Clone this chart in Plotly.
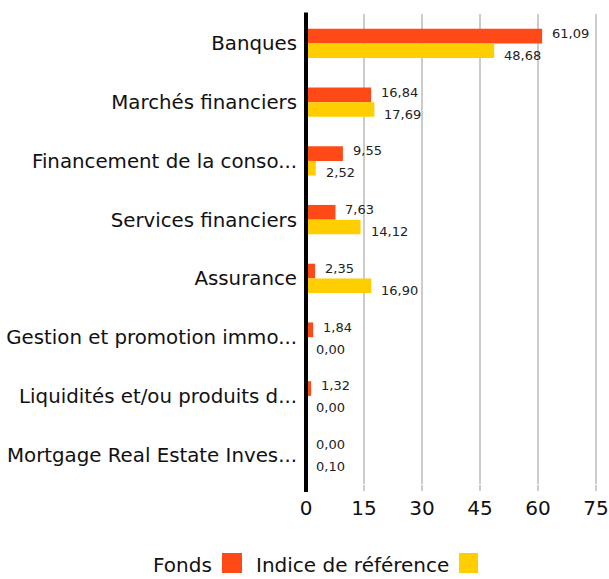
import plotly.graph_objects as go

categories = ["Banques", "Marchés financiers", "Financement de la conso...",
              "Services financiers", "Assurance", "Gestion et promotion immo...",
              "Liquidités et/ou produits d...", "Mortgage Real Estate Inves..."]
fonds = [61.09, 16.84, 9.55, 7.63, 2.35, 1.84, 1.32, 0.00]
indice = [48.68, 17.69, 2.52, 14.12, 16.90, 0.00, 0.00, 0.10]
series_names = ["Fonds", "Indice de référence"]
colors = ["#FF4A17", "#FFCE00"]
x_ticks = [0, 15, 30, 45, 60, 75]

FONT = "DejaVu Sans"

def fmt(v):
    return f"{v:.2f}".replace(".", ",")

fig = go.Figure()
for name, vals, col in zip(series_names, [fonds, indice], colors):
    fig.add_trace(go.Bar(
        y=categories, x=vals, orientation="h", name=name,
        marker=dict(color=col, line=dict(width=0)),
        showlegend=False, hoverinfo="skip",
    ))

annotations = []
for vals, shift in [(fonds, -10), (indice, 12)]:
    for c, v in zip(categories, vals):
        annotations.append(dict(
            x=v, y=c, xref="x", yref="y", text=fmt(v), showarrow=False,
            xanchor="left", yanchor="middle", xshift=8, yshift=-shift,
            font=dict(family=FONT, size=13, color="#222"),
        ))

W, H = 609, 579
ml, mr, mt, mb = 306, 10, 14, 95
pw, ph = W - ml - mr, H - mt - mb

def px_x(p):
    return (p - ml) / pw

def px_y(p):
    return (H - mb - p) / ph

# legend (text followed by colored square)
for label, right in zip(series_names, [214, 451]):
    annotations.append(dict(x=px_x(right), y=px_y(565), xref="paper", yref="paper",
                            text=label, showarrow=False, xanchor="right", yanchor="middle",
                            font=dict(family=FONT, size=20, color="#111")))

shapes = []
for (x0, x1), col in zip([(222, 242), (459, 478)], colors):
    shapes.append(dict(type="rect", xref="paper", yref="paper",
                       x0=px_x(x0), x1=px_x(x1), y0=px_y(573), y1=px_y(553),
                       fillcolor=col, line=dict(width=0)))
# zero axis line (drawn over the bars' start)
shapes.append(dict(type="line", xref="paper", yref="paper", x0=0, x1=0,
                   y0=px_y(492), y1=px_y(12.5), line=dict(color="black", width=4),
                   layer="above"))

fig.update_layout(
    width=W, height=H,
    margin=dict(l=ml, r=mr, t=mt, b=mb),
    paper_bgcolor="white", plot_bgcolor="white",
    barmode="group", bargap=0.5, bargroupgap=0,
    annotations=annotations, shapes=shapes,
    font=dict(family=FONT, color="#111"),
    xaxis=dict(range=[0, 75.8], tickvals=x_ticks, ticktext=[str(t) for t in x_ticks],
               showgrid=True, gridcolor="#CCCCCC", gridwidth=2,
               zeroline=False, showline=False,
               ticks="outside", ticklen=6, tickcolor="#CCCCCC", tickwidth=2,
               tickfont=dict(family=FONT, size=20, color="#111"), automargin=False),
    yaxis=dict(autorange="reversed", showgrid=False, zeroline=False,
               showline=False, ticks="", tickfont=dict(family=FONT, size=19.8, color="#111"),
               automargin=False, ticklabelstandoff=8),
)

fig.write_html("out.html")
